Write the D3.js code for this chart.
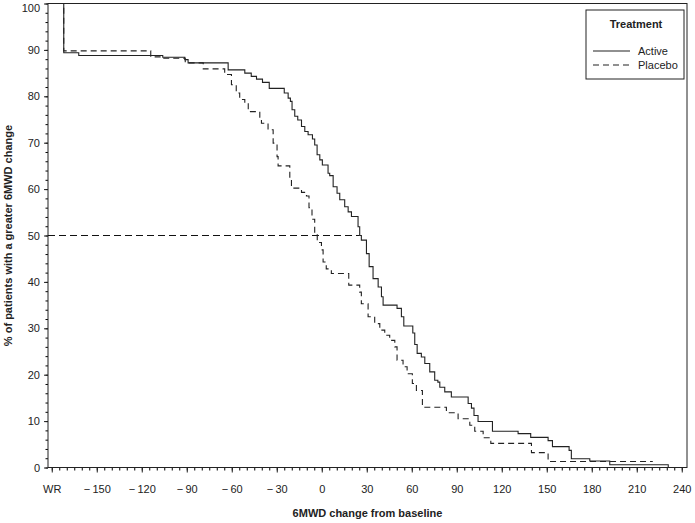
<!DOCTYPE html>
<html>
<head>
<meta charset="utf-8">
<script src="https://cdn.jsdelivr.net/npm/d3@7"></script>
<style>
  body { margin: 0; background: #fff; }
  svg { display: block; font-family: "Liberation Sans", Arial, sans-serif; }
</style>
</head>
<body>
<svg width="695" height="523"></svg>
<script>
// step points: [change from baseline, % with greater change]
const active = [
  [-182.5, 100], [-172, 89.4], [-162, 88.8], [-106, 88.4], [-91.3, 87.9], [-89.1, 87.2],
  [-62.4, 85.7], [-51.3, 85.0], [-47, 84.3], [-43.5, 83.7], [-39.5, 83.0], [-35, 81.7],
  [-25, 80.7], [-22.4, 79.6], [-20.9, 78.9], [-19.8, 77.1], [-18, 75.7], [-16, 74.9],
  [-13.5, 73.5], [-11.3, 72.4], [-9.1, 71.7], [-6.2, 70.8], [-4.7, 69.5], [-3.1, 67.4],
  [-1.3, 66.3], [0.4, 65.2], [4.2, 63.4], [5.3, 62.9], [7.6, 60.5], [10.2, 59.1],
  [12, 57.7], [15.3, 56.2], [17.6, 55.1], [19.8, 54.1], [24.2, 51.9], [25.3, 50.0],
  [26.4, 49.0], [29.8, 46.1], [31.6, 43.3], [34.2, 40.7], [37.6, 38.9], [39.8, 36.8],
  [40.9, 35.0], [50.2, 34.3], [53.1, 32.5], [54.7, 30.5], [60.7, 29.0], [62, 26.5],
  [63.6, 24.6], [66.4, 23.8], [68.7, 22.4], [72, 20.6], [75.3, 18.8], [77.4, 18.4],
  [78.7, 17.3], [82, 16.3], [86.4, 15.2], [97.6, 13.8], [99.8, 12.8], [101.5, 11.2],
  [104.2, 9.9], [113.8, 7.8], [130.9, 7.3], [139.3, 6.5], [150.9, 5.8], [153.8, 4.5],
  [164.9, 3.7], [166.4, 1.9], [178.7, 1.4], [192, 0.6], [231, 0]
];

const placebo = [
  [-182.5, 100], [-172, 89.8], [-114, 88.5], [-106, 88.2], [-91, 87.2], [-79, 85.9],
  [-64.7, 84.7], [-60.2, 82.5], [-57, 80.7], [-54.7, 79.3], [-51.3, 78.6], [-49, 76.7],
  [-41.3, 75.5], [-40.2, 74.2], [-35.8, 72.8], [-32.4, 69.9], [-29.8, 67.0], [-29.1, 65.0],
  [-21.3, 62.0], [-20.2, 60.2], [-13.5, 59.3], [-10.2, 58.5], [-8.5, 56], [-6.5, 53.5],
  [-4.7, 50.5], [-3.0, 48.5], [-0.2, 46.9], [0.9, 44.3], [3, 42.8], [6.4, 41.8],
  [18, 39.3], [25.3, 37.8], [26.4, 35.3], [30.9, 32.5], [35.3, 31.0], [38.7, 29.6],
  [42, 28.5], [45.3, 27.4], [48.7, 26.0], [50.2, 23.1], [54.2, 21.7], [56.9, 20.2],
  [60.4, 18.1], [63.1, 16.6], [67.1, 13.0], [83.1, 11.8], [90.9, 10.5], [98.7, 9.1],
  [102, 7.8], [107.6, 6.4], [112.7, 5.2], [139.8, 3.2], [150.9, 1.3], [220.7, 1.3]
];

const median = [[-182.5, 50], [25.3, 50]];

const xTicks = [-180, -150, -120, -90, -60, -30, 0, 30, 60, 90, 120, 150, 180, 210, 240];
const yTicks = [0, 10, 20, 30, 40, 50, 60, 70, 80, 90, 100];
const legendItems = [["Active", null], ["Placebo", "6,4"]];

const svg = d3.select("svg");

const x = d3.scaleLinear().domain([-182.5, 243.5]).range([48, 687]);
const y = d3.scaleLinear().domain([0, 100]).range([467.5, 3.5]);

const xLabel = d => d === -180 ? "WR" : d < 0 ? "\u2212\u2009" + Math.abs(d) : String(d);

// minor ticks
svg.append("g")
  .attr("transform", `translate(0,${y(0)})`)
  .call(d3.axisBottom(x).tickValues(d3.range(-180, 241, 5)).tickSize(3).tickFormat(""))
  .call(g => g.select(".domain").remove());

svg.append("g")
  .attr("transform", `translate(${x.range()[0]},0)`)
  .call(d3.axisLeft(y).tickValues(d3.range(0, 101, 2)).tickSize(2.5).tickFormat(""))
  .call(g => g.select(".domain").remove());

const xAxis = svg.append("g")
  .attr("transform", `translate(0,${y(0)})`)
  .call(d3.axisBottom(x).tickValues(xTicks).tickSize(5).tickPadding(13).tickFormat(xLabel));

const yAxis = svg.append("g")
  .attr("transform", `translate(${x.range()[0]},0)`)
  .call(d3.axisLeft(y).tickValues(yTicks).tickSize(4).tickPadding(4));

[xAxis, yAxis].forEach(g => {
  g.selectAll("text").style("font-size", "11px").style("fill", "#222");
  g.selectAll("line").style("stroke", "#222");
  g.select(".domain").remove();
});

// top label sits against the edge, nudge it into view
yAxis.selectAll("text").filter(d => d === 100).attr("dy", "0.75em");

// frame
svg.append("rect")
  .attr("x", x.range()[0])
  .attr("y", y.range()[1])
  .attr("width", x.range()[1] - x.range()[0])
  .attr("height", y.range()[0] - y.range()[1])
  .style("fill", "none")
  .style("stroke", "#222")
  .style("stroke-width", 1);

const step = d3.line()
  .x(d => x(d[0]))
  .y(d => y(d[1]))
  .curve(d3.curveStepAfter);

svg.append("path")
  .datum(median)
  .attr("d", step)
  .style("fill", "none")
  .style("stroke", "#111")
  .style("stroke-width", 1.1)
  .style("stroke-dasharray", "7,4");

svg.append("path")
  .datum(placebo)
  .attr("d", step)
  .style("fill", "none")
  .style("stroke", "#222")
  .style("stroke-width", 1.1)
  .style("stroke-dasharray", "6,4");

svg.append("path")
  .datum(active)
  .attr("d", step)
  .style("fill", "none")
  .style("stroke", "#222")
  .style("stroke-width", 1.1);

// axis titles
svg.append("text")
  .attr("x", (x.range()[0] + x.range()[1]) / 2)
  .attr("y", 517)
  .attr("text-anchor", "middle")
  .style("font-size", "11px")
  .style("font-weight", "bold")
  .style("fill", "#222")
  .text("6MWD change from baseline");

svg.append("text")
  .attr("transform", `translate(12,${(y.range()[0] + y.range()[1]) / 2}) rotate(-90)`)
  .attr("text-anchor", "middle")
  .style("font-size", "11px")
  .style("font-weight", "bold")
  .style("fill", "#222")
  .text("% of patients with a greater 6MWD change");

// legend
const legend = svg.append("g").attr("transform", "translate(586,10)");

legend.append("rect")
  .attr("width", 98)
  .attr("height", 69)
  .style("fill", "#fff")
  .style("stroke", "#222");

legend.append("text")
  .attr("x", 50)
  .attr("y", 18)
  .attr("text-anchor", "middle")
  .style("font-size", "11px")
  .style("font-weight", "bold")
  .style("fill", "#222")
  .text("Treatment");

const rows = legend.selectAll(".row")
  .data(legendItems)
  .enter()
  .append("g")
  .attr("class", "row")
  .attr("transform", (d, i) => `translate(0,${41 + i * 14})`);

rows.append("line")
  .attr("x1", 7)
  .attr("x2", 44)
  .style("stroke", "#222")
  .style("stroke-width", 1.1)
  .style("stroke-dasharray", d => d[1]);

rows.append("text")
  .attr("x", 52)
  .attr("dy", "0.35em")
  .style("font-size", "11px")
  .style("fill", "#222")
  .text(d => d[0]);
</script>
</body>
</html>
